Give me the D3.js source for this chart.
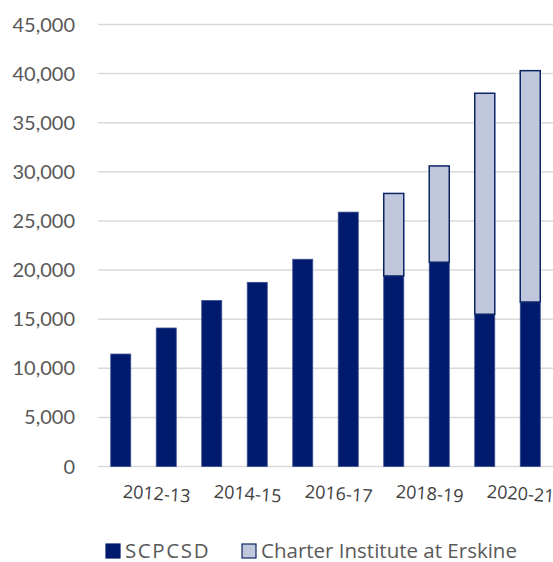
<!DOCTYPE html>
<html>
<head>
<meta charset="utf-8">
<script src="https://cdn.jsdelivr.net/npm/d3@7"></script>
<style>
  body { margin: 0; background: #fff; }
</style>
</head>
<body>
<svg id="svgcanvas" width="553" height="562"></svg>
<script>
// enrolment by year, two stacked series
var years = ["2011-12","2012-13","2013-14","2014-15","2015-16","2016-17","2017-18","2018-19","2019-20","2020-21"];
var scpcsd = [11450, 14100, 16900, 18750, 21100, 25900, 19400, 20800, 15500, 16750];
var charter = [0, 0, 0, 0, 0, 0, 8400, 9800, 22500, 23550];
var yTicks = [0, 5000, 10000, 15000, 20000, 25000, 30000, 35000, 40000, 45000];
var seriesNames = ["SCPCSD", "Charter Institute at Erskine"];

var svg = d3.select("#svgcanvas");

var x = d3.scaleBand().domain(years).range([98, 553]).paddingInner(0.56).paddingOuter(0.28);
var y = d3.scaleLinear().domain([0, 45000]).range([466.5, 24.5]);

// gridlines
svg.selectAll("line.grid")
  .data(yTicks)
  .enter().append("line")
  .classed("grid", true)
  .attr("x1", 98).attr("x2", 553)
  .attr("y1", d => y(d)).attr("y2", d => y(d))
  .attr("stroke", "#d9d9d9")
  .attr("stroke-width", 1.5)

// y labels
svg.selectAll("text.ytick")
  .data(yTicks)
  .enter().append("text")
  .classed("ytick", true)
  .attr("x", 75)
  .attr("y", d => y(d) + 7)
  .attr("text-anchor", "end")
  .style("font-family", "Lato, sans-serif")
  .attr("font-size", 20)
  .attr("fill", "#595959")
  .text(d3.format(","))

var rows = years.map(function(yr, i){ return {year: yr, a: scpcsd[i], b: charter[i]} });

// SCPCSD bars
svg.selectAll("rect.a")
  .data(rows)
  .enter().append("rect")
  .classed("a", true)
  .attr("x", d => x(d.year))
  .attr("width", x.bandwidth())
  .attr("y", d => y(d.a))
  .attr("height", d => y(0) - y(d.a))
  .attr("fill", "#001a6e")
  .attr("stroke", "#3a4f93")
  .attr("stroke-width", 0.8)

// charter bars on top
svg.selectAll("rect.b")
  .data(rows.filter(d => d.b > 0))
  .enter().append("rect")
  .classed("b", true)
  .attr("x", d => x(d.year))
  .attr("width", x.bandwidth())
  .attr("y", d => y(d.a + d.b))
  .attr("height", d => y(d.a) - y(d.a + d.b))
  .attr("fill", "#c0c6dc")
  .attr("stroke", "#0b2566")
  .attr("stroke-width", 1.5)

// x labels, every other year, slightly tilted
svg.selectAll("text.xlab")
  .data(years.filter((d, i) => i % 2 == 1))
  .enter().append("text")
  .classed("xlab", true)
  .attr("transform", d => "translate(" + (x(d) + x.bandwidth() / 2 - 10) + ",500) rotate(4)")
  .attr("text-anchor", "middle")
  .style("font-family", "'Open Sans', sans-serif")
  .attr("font-size", 18)
  .attr("fill", "#404040")
  .text(d => d)

// legend
var legend = [
  {name: seriesNames[0], x: 106, fill: "#001a6e", stroke: "#001a6e", ls: 1.6},
  {name: seriesNames[1], x: 242, fill: "#c0c6dc", stroke: "#0b2566", ls: 0}
];
var lg = svg.selectAll("g.legend").data(legend).enter().append("g").classed("legend", true);
lg.append("rect")
  .attr("x", d => d.x).attr("y", 544)
  .attr("width", 14).attr("height", 14)
  .attr("fill", d => d.fill)
  .attr("stroke", d => d.stroke)
  .attr("stroke-width", 1.2)
lg.append("text")
  .attr("x", d => d.x + 19).attr("y", 557.5)
  .attr("font-size", 20.5)
  .attr("letter-spacing", d => d.ls)
  .style("font-family", "'Open Sans', sans-serif")
  .attr("fill", "#595959")
  .text(d => d.name)
</script>
</body>
</html>
